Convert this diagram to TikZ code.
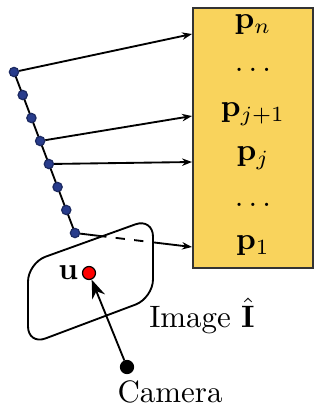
\documentclass[tikz,border=0pt]{standalone}
\usepackage{tikz}
\usetikzlibrary{arrows.meta, positioning, calc}
\definecolor{featyellow}{RGB}{249,211,92}
\definecolor{ptblue}{RGB}{40,60,140}

\begin{document}
\begin{tikzpicture}[
    x=0.323pt, y=-0.323pt,
    feat/.style={draw=black!80, fill=featyellow, minimum width=38.8pt, minimum height=84pt, inner sep=0pt},
    lbl/.style={font=\normalsize},
    ptdot/.style={circle, fill=ptblue, draw=ptblue!70!black, minimum size=3pt, inner sep=0pt},
    bigdot/.style={circle, draw=black, minimum size=4.2pt, inner sep=0pt},
    ray/.style={-{Stealth[length=3.2pt, width=2.4pt]}, semithick},
    cam/.style={-{Stealth[length=6pt, width=4.4pt]}, semithick}
]
\useasboundingbox (0,0) rectangle (320,406);

% feature box
\node[feat] (box) at (253,138) {};
\node[lbl] (pn) at (253,25) {$\mathbf{p}_n$};
\node[lbl] (dt1) at (253,70) {$\dots$};
\node[lbl] (pj1) at (253,114) {$\mathbf{p}_{j+1}$};
\node[lbl] (pj) at (253,158) {$\mathbf{p}_j$};
\node[lbl] (dt2) at (253,205) {$\dots$};
\node[lbl] (p1) at (253,246) {$\mathbf{p}_1$};

% image plane
\draw[semithick, rounded corners=6pt, fill=white]
    (28,263) -- (153,218) -- (153,298) -- (28,345) -- cycle;
\node[lbl] (img) at (202,316) {Image $\hat{\mathbf{I}}$};

% 3D points along the line
\coordinate (top) at (14,72);
\coordinate (bot) at (75,233);
\draw[semithick] (top) -- (bot);
\foreach \i in {1,...,8}
    \node[ptdot] (d\i) at ($(top)!{(\i-1)/7}!(bot)$) {};

% rays to the features
\coordinate (an) at (192,34);
\coordinate (aj1) at (192,116);
\coordinate (aj) at (192,162);
\coordinate (a1) at (192,247);
\draw[ray] (d1) -- (an);
\draw[ray] (d4) -- (aj1);
\draw[ray] (d5) -- (aj);
\coordinate (in1) at ($(bot)!0.19!(a1)$);
\coordinate (out1) at ($(bot)!0.665!(a1)$);
\draw[semithick] (d8) -- (in1);
\draw[semithick, dashed] (in1) -- (out1);
\draw[ray] (out1) -- (a1);

% pixel and camera
\node[bigdot, fill=red] (u) at (89,273) {};
\node[lbl, left=0pt of u, inner sep=1pt] (ulbl) {$\mathbf{u}$};
\node[bigdot, fill=black] (camc) at (127,367) {};
\node[lbl] (camlbl) at (170,392) {Camera};
\draw[cam] (camc) -- (u);
\end{tikzpicture}
\end{document}
